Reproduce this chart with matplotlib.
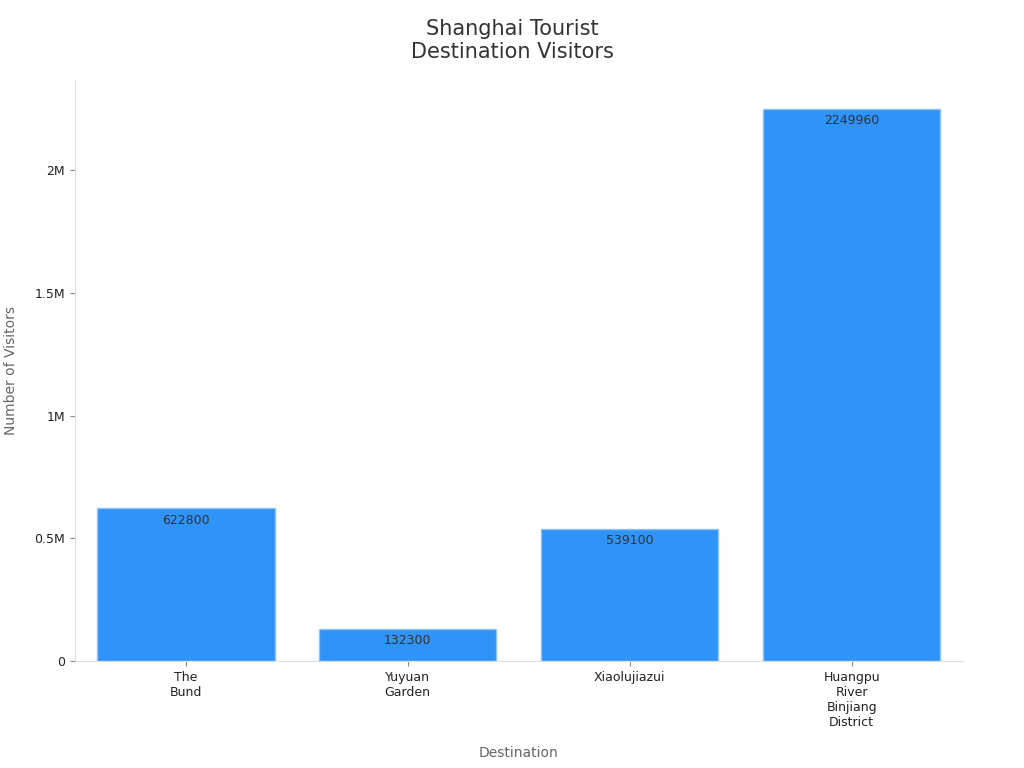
import matplotlib
matplotlib.use("Agg")
import matplotlib.pyplot as plt
from matplotlib.ticker import FuncFormatter

categories = ["The\nBund", "Yuyuan\nGarden", "Xiaolujiazui", "Huangpu\nRiver\nBinjiang\nDistrict"]
visitors = [622800, 132300, 539100, 2249960]

fig = plt.figure(figsize=(10.24, 7.68), dpi=100)
ax = fig.add_axes([0.073, 0.139, 0.867, 0.757])
x = range(len(categories))
bars = ax.bar(x, visitors, width=0.8, color="#2f93f7", edgecolor="#8cc4fa", linewidth=1)
for b, v in zip(bars, visitors):
    ax.annotate(str(v), (b.get_x() + b.get_width() / 2, v), xytext=(0, -4),
                textcoords="offset points", ha="center", va="top", fontsize=9, color="#333333")
ax.set_xlim(-0.5, 3.5)
ax.set_ylim(0, 2.367e6)
ax.set_xticks(list(x))
ax.set_xticklabels(categories, fontsize=9, color="#222222")
ax.set_yticks([0, 0.5e6, 1e6, 1.5e6, 2e6])
ax.yaxis.set_major_formatter(FuncFormatter(lambda v, p: "0" if v == 0 else f"{v/1e6:g}M"))
ax.tick_params(axis="y", labelsize=9, colors="#222222")
ax.tick_params(axis="both", color="#888888")
for s in ["top", "right"]:
    ax.spines[s].set_visible(False)
for s in ["left", "bottom"]:
    ax.spines[s].set_color("#dddddd")
ax.set_xlabel("Destination", fontsize=10, color="#666666", labelpad=12)
ax.set_ylabel("Number of Visitors", fontsize=10, color="#666666", labelpad=12)
fig.suptitle("Shanghai Tourist\nDestination Visitors", fontsize=15, color="#333333", y=0.975)
fig.savefig("out.png", dpi=100)
